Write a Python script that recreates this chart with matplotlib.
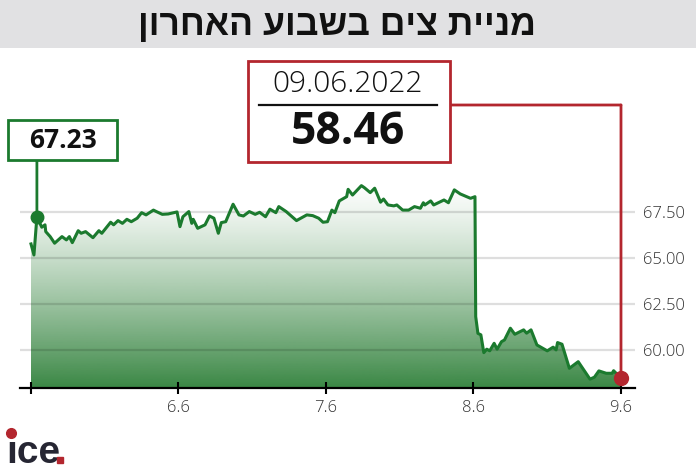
import matplotlib

matplotlib.use("Agg")
import matplotlib.pyplot as plt
import numpy as np
from matplotlib import transforms
from matplotlib.lines import Line2D
from matplotlib.patches import ConnectionPatch, Rectangle

W, H = 696, 472

TITLE = "מניית צים בשבוע האחרון"
DAY_TICKS = [0, 1, 2, 3, 4]
DAY_LABELS = ["", "6.6", "7.6", "8.6", "9.6"]
PRICE_TICKS = [60.0, 62.5, 65.0, 67.5]
FIRST_LABEL = "67.23"
LAST_DATE = "09.06.2022"
LAST_LABEL = "58.46"

# intraday prices, x in trading days from the first session
t = [0.00, 0.02, 0.04, 0.073, 0.095, 0.10, 0.13, 0.16, 0.21, 0.24, 0.26, 0.28,
     0.32, 0.34, 0.37, 0.42, 0.46, 0.48, 0.54, 0.56, 0.59, 0.62, 0.65, 0.68,
     0.72, 0.75, 0.78, 0.83, 0.85, 0.89, 0.93, 0.99, 1.01, 1.03, 1.07, 1.09,
     1.10, 1.13, 1.18, 1.21, 1.24, 1.27, 1.29, 1.32, 1.37, 1.41, 1.44, 1.48,
     1.52, 1.55, 1.59, 1.62, 1.66, 1.68, 1.73, 1.80, 1.87, 1.91, 1.95, 1.98,
     2.01, 2.04, 2.06, 2.09, 2.14, 2.15, 2.18, 2.24, 2.26, 2.30, 2.33, 2.37,
     2.39, 2.42, 2.46, 2.48, 2.52, 2.56, 2.60, 2.64, 2.66, 2.67, 2.71, 2.73,
     2.80, 2.83, 2.87, 2.91, 2.98, 3.01, 3.015, 3.03, 3.05, 3.07, 3.09, 3.11,
     3.14, 3.16, 3.19, 3.21, 3.25, 3.28, 3.34, 3.36, 3.39, 3.43, 3.50, 3.54,
     3.56, 3.57, 3.60, 3.65, 3.71, 3.79, 3.82, 3.85, 3.90, 3.94, 3.95, 4.00]
price = [65.76, 65.16, 67.23, 66.67, 66.80, 66.43, 66.16, 65.80, 66.16, 65.98,
         66.16, 65.83, 66.48, 66.34, 66.43, 66.10, 66.48, 66.34, 66.94, 66.80,
         67.03, 66.88, 67.10, 66.97, 67.16, 67.46, 67.34, 67.60, 67.52, 67.37,
         67.39, 67.50, 66.70, 67.24, 67.52, 66.88, 67.10, 66.61, 66.80, 67.28,
         67.16, 66.34, 66.92, 66.97, 67.92, 67.34, 67.28, 67.52, 67.37, 67.48,
         67.24, 67.65, 67.46, 67.79, 67.52, 67.03, 67.34, 67.30, 67.16, 66.94,
         66.97, 67.60, 67.46, 68.10, 68.33, 68.73, 68.42, 68.93, 68.82, 68.55,
         68.79, 68.03, 68.20, 67.88, 67.83, 67.88, 67.60, 67.60, 67.79, 67.70,
         68.00, 67.88, 68.10, 67.88, 68.15, 68.00, 68.70, 68.48, 68.24, 68.33,
         61.81, 60.90, 60.82, 59.85, 60.04, 59.95, 60.36, 60.04, 60.45, 60.54,
         61.18, 60.85, 61.09, 60.91, 61.09, 60.27, 59.95, 60.15, 60.00, 60.40,
         60.31, 59.00, 59.36, 58.41, 58.52, 58.86, 58.73, 58.73, 58.87, 58.46]

GREEN = "#1b7a2e"
FILL = "#3a8744"
RED = "#b3262e"
TXT = "#111111"
NARROW = ["Liberation Sans Narrow", "Liberation Sans", "DejaVu Sans"]
SANS = ["Open Sans", "DejaVu Sans"]


def fx(x):
    return x / W


def fy(y):
    return 1 - y / H


fig = plt.figure(figsize=(W / 100, H / 100), dpi=100)

# grey title band
fig.patches.append(Rectangle((0, fy(48)), 1, 48 / H, transform=fig.transFigure,
                             facecolor="#e1e1e3", edgecolor="none", zorder=0))
# matplotlib lays glyphs left to right, so feed the Hebrew reversed
fig.text(fx(337), fy(26), TITLE[::-1], ha="center", va="center", fontsize=25.7,
         fontweight="bold", family=NARROW, color=TXT)

ylo, yhi = 57.93, 69.78
ax = fig.add_axes([fx(20), fy(388), fx(635) - fx(20), (388 - 170) / H])
ax.set_xlim(-0.0746, 4.095)
ax.set_ylim(ylo, yhi)

# gradient area under the line
poly = ax.fill_between(t, price, ylo, facecolor="none", edgecolor="none")
top = max(price) + 0.4
s = np.linspace(0, 1, 256)[:, None]
rgba = np.zeros((256, 1, 4))
rgba[..., :3] = matplotlib.colors.to_rgb(FILL)
rgba[..., 3] = s ** 1.3
img = ax.imshow(rgba, extent=[min(t), max(t), ylo, top], origin="upper",
                aspect="auto", zorder=0)
img.set_clip_path(poly.get_paths()[0], transform=ax.transData)

ax.plot(t, price, color=GREEN, lw=2.2, zorder=3)
ax.plot(t[2], price[2], "o", color=GREEN, ms=9, zorder=4, clip_on=False)
ax.plot(t[-1], price[-1], "o", color=RED, ms=10, zorder=4, clip_on=False)

for side in ("top", "left", "right"):
    ax.spines[side].set_visible(False)
ax.spines["bottom"].set_linewidth(1.6)
ax.set_xticks(DAY_TICKS, DAY_LABELS)
ax.tick_params(axis="x", direction="inout", length=8, width=1.5, pad=5,
               labelsize=12, labelcolor="#333333")
ax.yaxis.tick_right()
ax.set_yticks(PRICE_TICKS, [f"{v:.2f}" for v in PRICE_TICKS])
ax.tick_params(axis="y", length=0, pad=6, labelsize=12, labelcolor="#333333")
for lab in ax.get_xticklabels() + ax.get_yticklabels():
    lab.set_family(SANS)
    lab.set_fontweight("light")
ax.grid(axis="y", color="black", alpha=0.13, lw=1.6)
ax.set_axisbelow("line")

blend = transforms.blended_transform_factory(ax.transData, fig.transFigure)

# first-value callout
fig.patches.append(Rectangle((fx(8), fy(160)), fx(117) - fx(8), 40 / H,
                             transform=fig.transFigure, facecolor="white",
                             edgecolor=GREEN, lw=2, zorder=5))
fig.text(fx(63), fy(140), FIRST_LABEL, ha="center", va="center", fontsize=19,
         fontweight="bold", family=SANS, color=TXT, zorder=6)
fig.add_artist(ConnectionPatch(xyA=(t[2], fy(160)), coordsA=blend,
                               xyB=(t[2], price[2]), coordsB=ax.transData,
                               color=GREEN, lw=2))

# last-value callout
fig.patches.append(Rectangle((fx(248), fy(162)), fx(450) - fx(248), 101 / H,
                             transform=fig.transFigure, facecolor="white",
                             edgecolor=RED, lw=2, zorder=5))
fig.text(fx(348), fy(84), LAST_DATE, ha="center", va="center", fontsize=21.5,
         fontweight="light", family=SANS, color=TXT, zorder=6)
fig.add_artist(Line2D([fx(259), fx(437)], [fy(105), fy(105)], color=TXT,
                      lw=1.6, transform=fig.transFigure, zorder=7))
fig.text(fx(348), fy(133), LAST_LABEL, ha="center", va="center", fontsize=32,
         fontweight="bold", family=SANS, color=TXT, zorder=6)
fig.add_artist(ConnectionPatch(xyA=(fx(450), fy(105)), coordsA=fig.transFigure,
                               xyB=(t[-1], fy(105)), coordsB=blend,
                               color=RED, lw=2))
fig.add_artist(ConnectionPatch(xyA=(t[-1], fy(105)), coordsA=blend,
                               xyB=(t[-1], price[-1]), coordsB=ax.transData,
                               color=RED, lw=2))

# ice logo
fig.text(fx(6), fy(463), "\u0131ce", ha="left", va="baseline", fontsize=28,
         fontweight="bold", family=NARROW, color="#262633")
fig.add_artist(Line2D([fx(11)], [fy(433)], marker="o", ms=7, color=RED,
                      transform=fig.transFigure, zorder=7))
fig.add_artist(Line2D([fx(60)], [fy(460)], marker="s", ms=5, color=RED,
                      transform=fig.transFigure, zorder=7))

fig.savefig("out.png", dpi=100)
